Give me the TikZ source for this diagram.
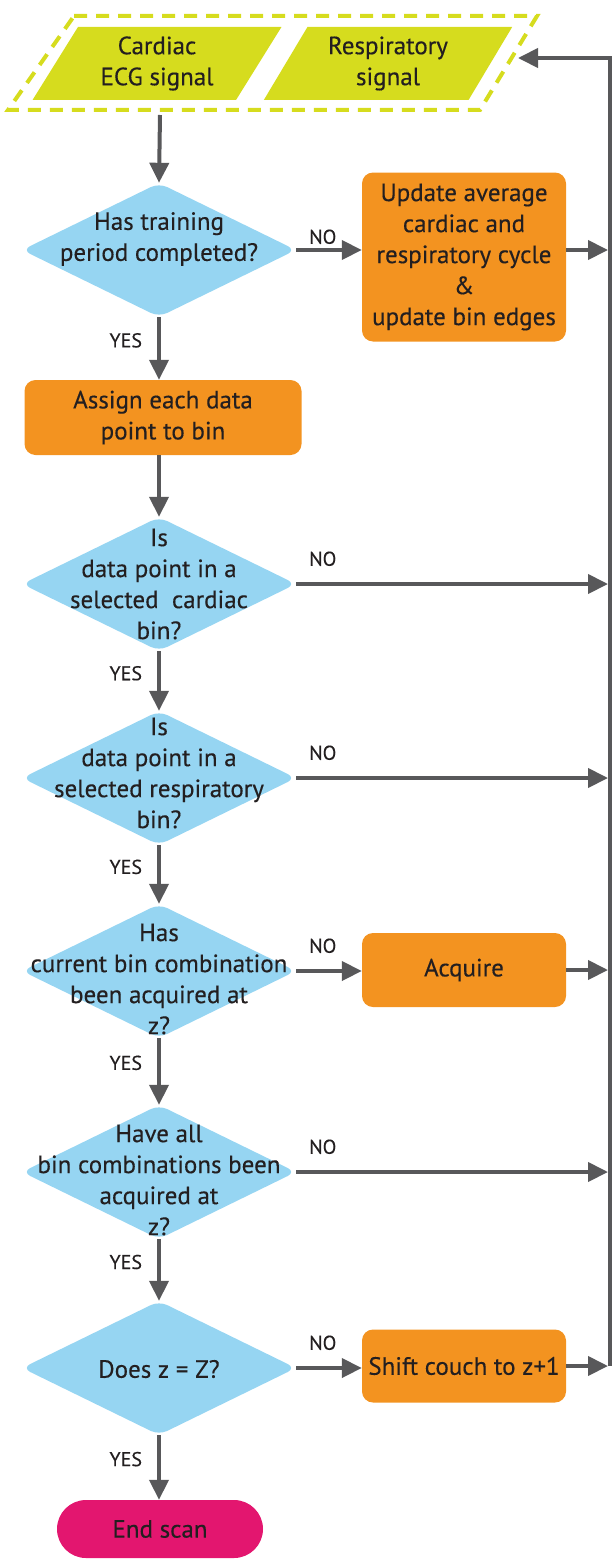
\documentclass[tikz,border=0pt]{standalone}
\usepackage{fontspec}
\setmainfont{PT Sans}[FakeBold=0.3]
\usetikzlibrary{arrows.meta,shapes.geometric}
\definecolor{lime}{RGB}{214,220,30}
\definecolor{sky}{RGB}{150,213,242}
\definecolor{amber}{RGB}{243,147,32}
\definecolor{berry}{RGB}{227,22,111}
\definecolor{pipe}{RGB}{88,88,90}
\definecolor{ink}{RGB}{35,31,32}

\begin{document}
\begin{tikzpicture}[x=1pt,y=-1pt,
    txt/.style={font=\fontsize{25}{31}\selectfont, align=center, inner sep=0pt, text=ink},
    lbl/.style={font=\fontsize{20}{22}\selectfont, inner sep=3pt, text=ink},
    nolbl/.style={lbl, pos=0, anchor=south west, xshift=8pt, yshift=13pt},
    yeslbl/.style={lbl, pos=0.37, left=12pt},
    decision/.style={diamond, fill=sky, rounded corners=9pt, inner sep=0pt,
      minimum width=274pt, minimum height=134pt},
    task/.style={rectangle, fill=amber, rounded corners=11pt, minimum width=204pt, txt},
    signal/.style={trapezium, trapezium left angle=59, trapezium right angle=121,
      trapezium stretches=true, fill=lime, minimum width=249pt, minimum height=73pt, txt},
    flow/.style={draw=pipe, line width=4pt, -{Triangle[length=20pt,width=19pt]}},
  ]
    \useasboundingbox (0,0) rectangle (611,1560);

    % input signals
    \draw[lime, line width=4pt, dash pattern=on 13pt off 9pt] (74,16) -- (537,16) -- (480,110) -- (8,110) -- cycle;
    \node[signal] (ecg) at (157,63.5) {Cardiac\\ECG signal};
    \node[signal] (resp) at (388,63.5) {Respiratory\\signal};
    \coordinate (instart) at (160,115);
    \coordinate (inend) at (518,58);

    % main column
    \node[decision] (d1) at (159,250) {};
    \node[txt] (d1t) at (159,239) {Has training\\period completed?};
    \node[task, minimum height=169pt] (upd) at (464,257)
      {Update average\\cardiac and\\respiratory cycle\\\&\\update bin edges};
    \node[task, minimum width=277pt, minimum height=75pt] (assign) at (163,417.5) {Assign each data\\point to bin};
    \node[decision] (d2) at (159,584) {};
    \node[txt] (d2t) at (159,584) {Is\\data point in a\\selected~ cardiac\\bin?};
    \node[decision] (d3) at (159,778) {};
    \node[txt] (d3t) at (159,773) {Is\\data point in a\\selected respiratory\\bin?};
    \node[decision] (d4) at (159,971) {};
    \node[txt] (d4t) at (159,979) {Has\\current bin combination\\been acquired at\\z?};
    \node[task, minimum height=74pt] (acq) at (464,970) {Acquire};
    \node[decision] (d5) at (159,1172) {};
    \node[txt] (d5t) at (159,1180) {Have all\\bin combinations been\\acquired at\\z?};
    \node[decision] (d6) at (159,1368) {};
    \node[txt] (d6t) at (159,1369) {Does z = Z?};
    \node[task, minimum height=73pt] (shift) at (464,1366) {Shift couch to z+1};
    \node[txt, fill=berry, rounded corners=29pt, minimum width=206pt, minimum height=58pt] (stop) at (160,1529) {End scan};

    % return line
    \coordinate (rl) at (608,0);
    \coordinate (rline) at (610,0);
    \coordinate (rtop) at (610,58);

    % connectors
    \draw[flow] (instart) -- (d1.north);
    \draw[flow] (d1.east) -- node[nolbl, yshift=-12pt] {NO} (d1.east -| upd.west);
    \draw[flow] (upd.east |- d1.east) -- (rl |- d1.east);
    \draw[flow] (d1.south) -- node[yeslbl] {YES} (d1.south |- assign.north);
    \draw[flow] (d1.south |- assign.south) -- (d2.north);
    \draw[flow] (d2.east) -- node[nolbl] {NO} (d2.east -| rl);
    \draw[flow] (d2.south) -- node[yeslbl] {YES} (d3.north);
    \draw[flow] (d3.east) -- node[nolbl] {NO} (d3.east -| rl);
    \draw[flow] (d3.south) -- node[yeslbl] {YES} (d4.north);
    \draw[flow] (d4.east) -- node[nolbl] {NO} (d4.east -| acq.west);
    \draw[flow] (acq.east) -- (acq.east -| rl);
    \draw[flow] (d4.south) -- node[yeslbl] {YES} (d5.north);
    \draw[flow] (d5.east) -- node[nolbl] {NO} (d5.east -| rl);
    \draw[flow] (d5.south) -- node[yeslbl] {YES} (d6.north);
    \draw[flow] (d6.east) -- node[nolbl] {NO} (d6.east -| shift.west);
    \draw[flow] (shift.east) -- (shift.east -| rl);
    \draw[flow] (d6.south) -- node[yeslbl] {YES} (d6.south |- stop.north);
    \draw[flow] (rline |- shift.east) -- (rtop) -- (inend);
\end{tikzpicture}
\end{document}
